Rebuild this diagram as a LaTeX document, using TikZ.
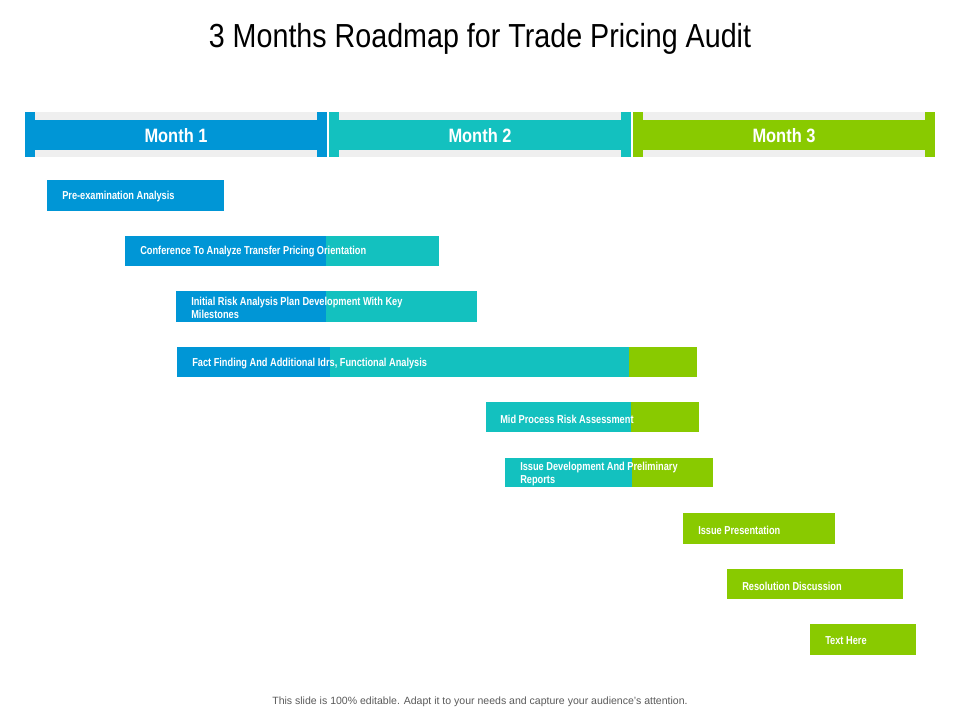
\documentclass[tikz,border=0pt]{standalone}
\usepackage{fontspec}
\setmainfont{Liberation Sans}
\newfontfamily\narrowfont[FakeStretch=0.8]{Liberation Sans}
\newfontfamily\monthfont[FakeStretch=0.85]{Liberation Sans}
\newfontfamily\titlefont[FakeStretch=0.86]{Liberation Sans}
\definecolor{mblue}{RGB}{0,150,214}
\definecolor{mteal}{RGB}{19,193,191}
\definecolor{mgreen}{RGB}{137,202,0}
\definecolor{mgray}{RGB}{239,239,239}
\definecolor{foot}{RGB}{90,90,90}
\tikzset{
  bartext/.style={anchor=west,text=white,font=\narrowfont\bfseries\fontsize{8.65}{9.8}\selectfont,inner sep=0pt,align=left,yshift=-1.5pt},
  monthtext/.style={text=white,font=\monthfont\bfseries\fontsize{14.5}{16}\selectfont,inner sep=0pt}
}
\begin{document}
\begin{tikzpicture}[x=0.75pt,y=-0.75pt]
\useasboundingbox (0,0) rectangle (960,720);
\fill[white] (0,0) rectangle (960,720);
% title
\node[font=\titlefont\fontsize{25}{30}\selectfont] (title) at (480,39) {3 Months Roadmap for Trade Pricing Audit};
% months
\foreach \xa/\col/\lab [count=\i] in {25/mblue/Month 1,329/mteal/Month 2,633/mgreen/Month 3}{
  \fill[mgray] (\xa,112) rectangle ++(302,45);
  \fill[\col] (\xa,120) rectangle ++(302,30);
  \fill[\col] (\xa,112) rectangle ++(10,45);
  \fill[\col] (\xa+292,112) rectangle ++(10,45);
  \node[monthtext] (m\i) at (\xa+151,135.5) {\lab};
}
% bars
\fill[mblue] (47,180) rectangle (224,211);
\node[bartext] (b1) at (62,195) {Pre-examination Analysis};

\fill[mblue] (125,236) rectangle (326,266);
\fill[mteal] (326,236) rectangle (439,266);
\node[bartext] (b2) at (140,250) {Conference To Analyze Transfer Pricing Orientation};

\fill[mblue] (176,291) rectangle (326,322);
\fill[mteal] (326,291) rectangle (477,322);
\node[bartext] (b3) at (191,306) {Initial Risk Analysis Plan Development With Key\\Milestones};

\fill[mblue] (177,347) rectangle (330,377);
\fill[mteal] (330,347) rectangle (629,377);
\fill[mgreen] (629,347) rectangle (697,377);
\node[bartext] (b4) at (192,362) {Fact Finding And Additional Idrs, Functional Analysis};

\fill[mteal] (486,402) rectangle (631,432);
\fill[mgreen] (631,402) rectangle (699,432);
\node[bartext] (b5) at (500,417) {Mid Process Risk Assessment};

\fill[mteal] (505,458) rectangle (632,487);
\fill[mgreen] (632,458) rectangle (713,487);
\node[bartext] (b6) at (520,472) {Issue Development And Preliminary\\Reports};

\fill[mgreen] (683,513) rectangle (835,544);
\node[bartext] (b7) at (698,528) {Issue Presentation};

\fill[mgreen] (727,569) rectangle (903,599);
\node[bartext] (b8) at (742,584) {Resolution Discussion};

\fill[mgreen] (810,624) rectangle (916,655);
\node[bartext] (b9) at (825,639) {Text Here};

% footer
\node[text=foot,font=\fontsize{7.9}{10}\selectfont] (footer) at (480,702) {This slide is 100\% editable. Adapt it to your needs and capture your audience's attention.};
\end{tikzpicture}
\end{document}
